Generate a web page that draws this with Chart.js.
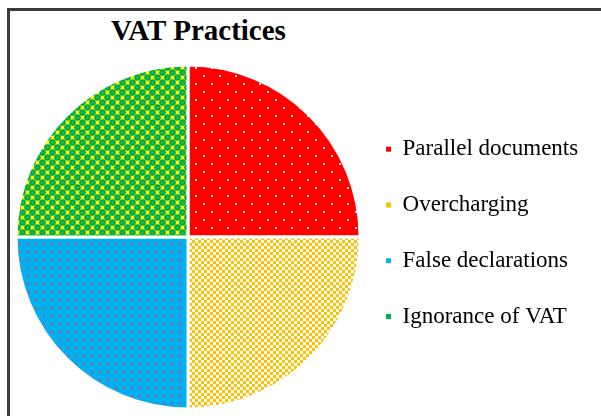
<!DOCTYPE html>
<html>
<head>
<meta charset="utf-8">
<title>VAT Practices</title>
<script src="https://cdn.jsdelivr.net/npm/chart.js@4"></script>
<style>
  html, body { margin: 0; padding: 0; background: #fff; }
  #wrap { position: relative; width: 601px; height: 416px; overflow: hidden; }
  #frame { position: absolute; left: 7px; top: 8px; width: 700px; height: 500px;
           border-top: 3px solid #3c3c3c; border-left: 3px solid #3c3c3c; }
  #title { position: absolute; left: 0; top: 16px; width: 397px; text-align: center;
           font: bold 29px/28px "Liberation Serif", "Times New Roman", serif; color: #000; }
  #chart { position: absolute; left: 0; top: 0; }
</style>
</head>
<body>
<div id="wrap">
  <div id="frame"></div>
  <div id="title">VAT Practices</div>
  <canvas id="chart" width="601" height="416"></canvas>
</div>
<script>
/* ===================== DATA ===================== */
const categories = ['Parallel documents', 'Overcharging', 'False declarations', 'Ignorance of VAT'];
const shares = [25, 25, 25, 25];
const markerColors = ['#FF0000', '#FFC000', '#00B0F0', '#00B050'];

/* ===================== PATTERNS ===================== */
const ctx = document.getElementById('chart').getContext('2d');

function makePattern(w, h, draw) {
  const tile = document.createElement('canvas');
  tile.width = w;
  tile.height = h;
  draw(tile.getContext('2d'));
  return ctx.createPattern(tile, 'repeat');
}

// red with white staggered dots
const redDots = makePattern(16, 16, g => {
  g.fillStyle = '#FF0000';
  g.fillRect(0, 0, 16, 16);
  g.fillStyle = '#FFE6E6';
  g.fillRect(3, 3, 2, 2);
  g.fillRect(11, 11, 2, 2);
});

// orange small checkerboard
const orangeCheck = makePattern(6, 6, g => {
  g.fillStyle = '#FFFFFF';
  g.fillRect(0, 0, 6, 6);
  g.fillStyle = '#FFC000';
  g.fillRect(0, 0, 3, 3);
  g.fillRect(3, 3, 3, 3);
});

// blue with red dots
const blueDots = makePattern(8, 8, g => {
  g.fillStyle = '#00B0F0';
  g.fillRect(0, 0, 8, 8);
  g.fillStyle = '#D8485E';
  g.fillRect(3, 3, 2, 2);
});

// yellow with green spheres
const greenSpheres = makePattern(10, 10, g => {
  g.fillStyle = '#FFFF00';
  g.fillRect(0, 0, 10, 10);
  [[2.5, 2.5], [7.5, 7.5]].forEach(([cx, cy]) => {
    for (let dx = -10; dx <= 10; dx += 10) {
      for (let dy = -10; dy <= 10; dy += 10) {
        g.fillStyle = '#00A84A';
        g.beginPath();
        g.arc(cx + dx, cy + dy, 3.3, 0, Math.PI * 2);
        g.fill();
        g.fillStyle = '#19B85A';
        g.beginPath();
        g.arc(cx + dx, cy + dy, 1.6, 0, Math.PI * 2);
        g.fill();
      }
    }
  });
});

/* ===================== CHART ===================== */
new Chart(ctx, {
  type: 'pie',
  data: {
    labels: categories,
    datasets: [{
      data: shares,
      backgroundColor: [redDots, orangeCheck, blueDots, greenSpheres],
      borderColor: '#FFFFFF',
      borderWidth: 3
    }]
  },
  options: {
    responsive: false,
    animation: false,
    devicePixelRatio: 1,
    layout: {
      padding: { top: 63, bottom: 5, left: 14.5, right: 12.8 }
    },
    plugins: {
      title: { display: false },
      tooltip: { enabled: false },
      legend: {
        position: 'right',
        labels: {
          boxWidth: 5,
          boxHeight: 5,
          padding: 24.5,
          color: '#000',
          font: { family: '"Liberation Serif", "Times New Roman", serif', size: 23, lineHeight: 1.357 },
          generateLabels: () => categories.map((c, i) => ({
            text: [c],
            fillStyle: markerColors[i],
            strokeStyle: markerColors[i],
            lineWidth: 0,
            fontColor: '#000',
            hidden: false,
            index: i
          }))
        }
      }
    }
  }
});
</script>
</body>
</html>
